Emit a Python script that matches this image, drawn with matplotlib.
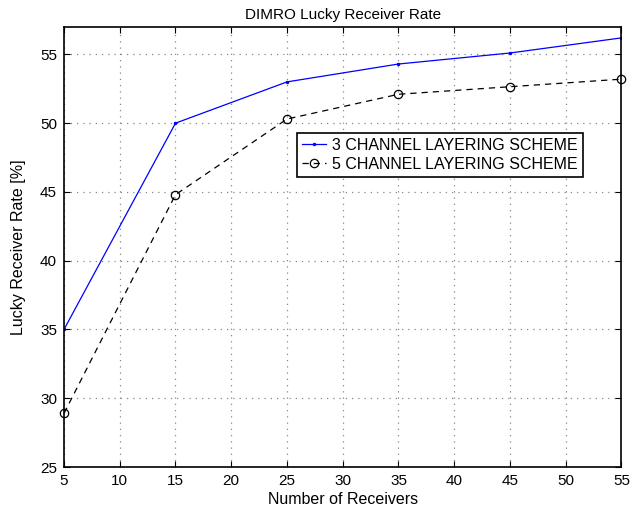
import numpy as np
import matplotlib.pyplot as plt

plt.rcParams.update({'font.size': 11.5, 'font.family': ['Liberation Sans', 'DejaVu Sans']})

receivers = [5, 15, 25, 35, 45, 55]
rate3 = [35.0, 50.0, 53.0, 54.3, 55.1, 56.2]
rate5 = [28.9, 44.8, 50.3, 52.1, 52.65, 53.2]
xticks = [5, 10, 15, 20, 25, 30, 35, 40, 45, 50, 55]
yticks = [25, 30, 35, 40, 45, 50, 55]

fig = plt.figure(figsize=(6.3, 5.17), dpi=100)
ax = fig.add_axes([0.1016, 0.0967, 0.8848, 0.8513])

ax.plot(receivers, rate3, color='blue', linewidth=0.9, marker='.', markersize=3,
        label='3 CHANNEL LAYERING SCHEME')
ax.plot(receivers, rate5, color='black', linewidth=0.9, linestyle=(0, (5, 4)),
        marker='o', markersize=6, markerfacecolor='none', markeredgewidth=0.9,
        label='5 CHANNEL LAYERING SCHEME', clip_on=False)

ax.set_xlim(5, 55)
ax.set_ylim(25, 57)
ax.set_xticks(xticks)
ax.set_yticks(yticks)
ax.grid(True, linestyle=(0, (1, 4)), color='#888888', linewidth=0.9)
ax.tick_params(direction='in', top=True, right=True, length=4, labelsize=11, pad=5)
for s in ax.spines.values():
    s.set_linewidth(1.2)

ax.set_title('DIMRO Lucky Receiver Rate', fontsize=11)
ax.set_xlabel('Number of Receivers', labelpad=3)
ax.set_ylabel('Lucky Receiver Rate [%]', labelpad=10)

leg = ax.legend(loc='upper left', bbox_to_anchor=(0.418, 0.759), borderaxespad=0,
                fancybox=False, framealpha=1, edgecolor='black', borderpad=0.3,
                handlelength=1.5, handletextpad=0.4, labelspacing=0.25, fontsize=11.5)
leg.get_frame().set_linewidth(1.2)

plt.savefig('out.png', dpi=100)
plt.close()
